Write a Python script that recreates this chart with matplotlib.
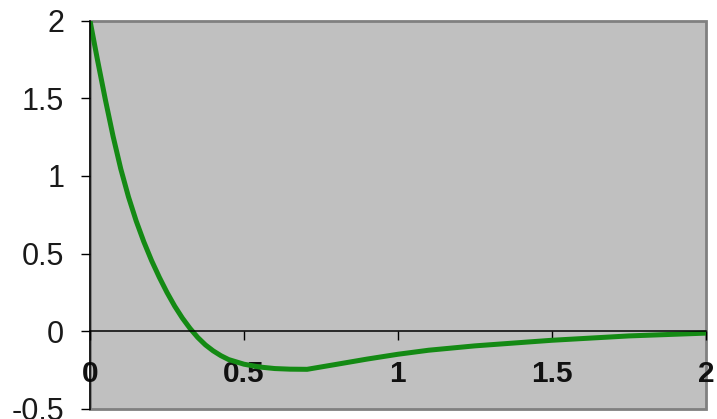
import matplotlib
matplotlib.use('Agg')
import matplotlib.pyplot as plt

# values
x_vals = [0, 0.025, 0.05, 0.075, 0.10, 0.125, 0.15, 0.175, 0.20, 0.225,
          0.25, 0.275, 0.30, 0.325, 0.35, 0.375, 0.40, 0.425, 0.45, 0.50,
          0.55, 0.60, 0.65, 0.705, 0.80, 0.90, 1.0, 1.1, 1.25, 1.5,
          1.75, 2.0]
y_vals = [2.0, 1.74, 1.49, 1.255, 1.045, 0.865, 0.71, 0.575, 0.455, 0.348,
          0.25, 0.162, 0.085, 0.018, -0.04, -0.088, -0.126, -0.157, -0.182, -0.212,
          -0.23, -0.24, -0.244, -0.245, -0.213, -0.179, -0.148, -0.122, -0.094, -0.058,
          -0.03, -0.012]

x_ticks = [0, 0.5, 1, 1.5, 2]
x_tick_labels = ['0', '0.5', '1', '1.5', '2']
y_ticks = [-0.5, 0, 0.5, 1, 1.5, 2]
y_tick_labels = ['-0.5', '0', '0.5', '1', '1.5', '2']

plt.rcParams['font.family'] = ['Liberation Sans', 'DejaVu Sans']

fig = plt.figure(figsize=(7.17, 4.19), dpi=100)
ax = fig.add_axes([0.1255, 0.024, 0.859, 0.927])
ax.set_facecolor('#c0c0c0')
ax.patch.set_edgecolor('#808080')
ax.patch.set_linewidth(2)

ax.plot(x_vals, y_vals, color='#148a14', linewidth=3.6,
        solid_capstyle='round', solid_joinstyle='round')

ax.set_xlim(0, 2)
ax.set_ylim(-0.5, 2)

ax.spines['bottom'].set_position(('data', 0))
ax.spines['bottom'].set_color('black')
ax.spines['bottom'].set_linewidth(1.1)
ax.spines['left'].set_color('black')
ax.spines['left'].set_linewidth(1.1)
ax.spines['top'].set_visible(False)
ax.spines['right'].set_visible(False)

ax.set_yticks(y_ticks)
ax.set_yticklabels(y_tick_labels, fontsize=22, color='#1a1a1a')
ax.tick_params(axis='y', direction='out', length=6.5, width=1, pad=12)

ax.set_xticks(x_ticks)
ax.set_xticklabels(x_tick_labels, fontsize=21.5, fontweight='bold', color='#111111')
ax.tick_params(axis='x', direction='out', length=6.5, width=1, pad=14)

fig.savefig('out.png', dpi=100)
